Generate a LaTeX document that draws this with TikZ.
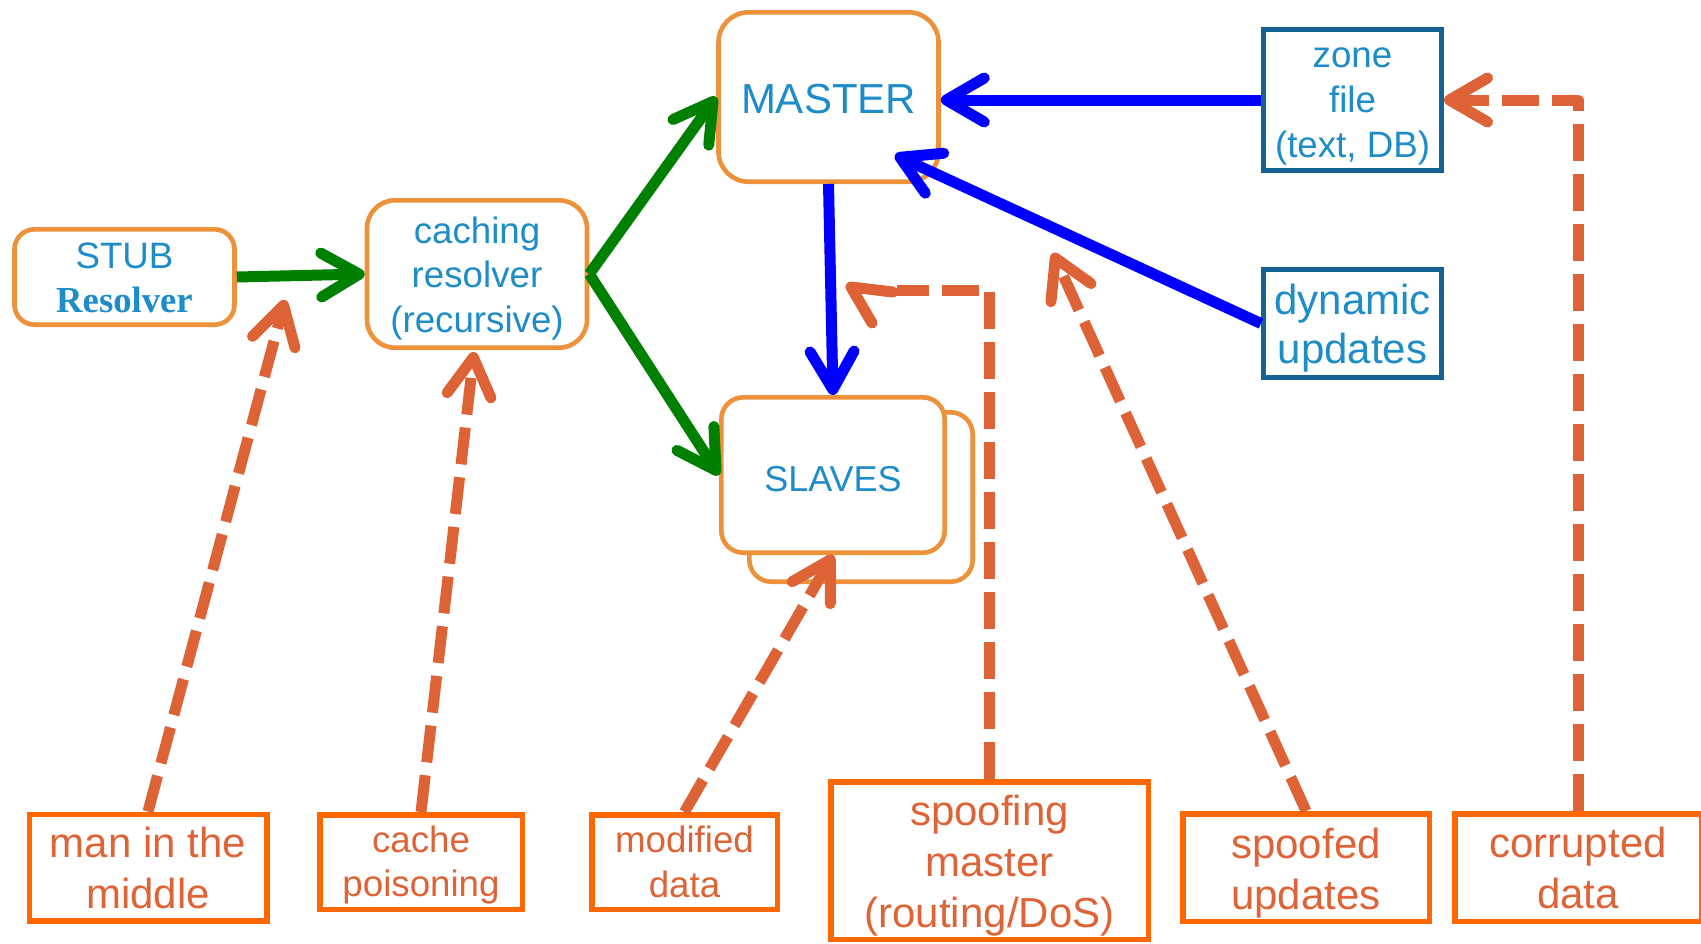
\documentclass[tikz,border=0pt]{standalone}
\usepackage{fontspec}
\setmainfont{Liberation Sans}
\newfontfamily\tnr{Liberation Serif}
\usetikzlibrary{arrows.meta,calc}
\definecolor{boxor}{RGB}{237,145,58}
\definecolor{txtblue}{RGB}{30,140,200}
\definecolor{dkblue}{RGB}{21,98,148}
\definecolor{mygreen}{RGB}{0,128,0}
\definecolor{myblue}{RGB}{0,0,255}
\definecolor{dashor}{RGB}{221,99,54}
\definecolor{btmor}{RGB}{255,104,0}
\definecolor{btmtxt}{RGB}{222,100,55}
\tikzset{
  rbox/.style={draw=boxor, line width=2.3pt, rounded corners=#1, fill=white, inner sep=0pt},
  rbox/.default=12pt,
  bbox/.style={draw=dkblue, line width=2.5pt, fill=white, inner sep=0pt},
  obox/.style={draw=btmor, line width=2.75pt, fill=white, inner sep=0pt},
  btxt/.style={text=txtblue, align=center, inner sep=0pt},
  otxt/.style={text=btmtxt, align=center, inner sep=0pt},
  small/.style={font=\fontsize{18.35}{22.25}\selectfont},
  big/.style={font=\fontsize{21}{25.5}\selectfont},
  tipb/.style={-{Straight Barb[length=19pt,width=22pt,round]}},
  garrow/.style={draw=mygreen, line width=5.5pt, tipb},
  barrow/.style={draw=myblue, line width=5.5pt, tipb},
  dline/.style={draw=dashor, line width=5.5pt, dash pattern=on 18.5pt off 6.5pt, line join=round},
  darrow/.style={dline, tipb},
}
\begin{document}
\begin{tikzpicture}[x=0.5pt,y=-0.5pt]
\clip (0,0) rectangle (1701,943);
\fill[white] (0,0) rectangle (1701,943);

% top boxes
\node[rbox=10pt, minimum width=110pt, minimum height=47.7pt] (stub) at (124.5,277) {};
\node[btxt, small] (stubt) at ($(stub.center)+(0,1)$) {STUB\\{\tnr\bfseries Resolver}};
\node[rbox=14pt, minimum width=110pt, minimum height=73.7pt] (caching) at (477,274) {};
\node[btxt, small] (cachingt) at ($(caching.center)+(0,4)$) {caching\\resolver\\(recursive)};
\node[rbox=15pt, minimum width=110pt, minimum height=84.7pt] (master) at (828.5,97) {};
\node[btxt, font=\fontsize{21}{25}\selectfont] (mastert) at ($(master.center)+(0,2)$) {MASTER};
\node[bbox, minimum width=89pt, minimum height=70.5pt] (zone) at (1352.5,100) {};
\node[btxt, font=\fontsize{18.35}{22.5}\selectfont] (zonet) at ($(zone.center)+(0,6.5)$) {zone\\file\\(text, DB)};
\node[bbox, minimum width=89pt, minimum height=54pt] (dyn) at (1352.5,323.5) {};
\node[btxt, font=\fontsize{21}{24.5}\selectfont] (dynt) at ($(dyn.center)+(0,5)$) {dynamic\\updates};
\node[rbox=11pt, minimum width=111.7pt, minimum height=84.7pt] (slavesback) at (861,497) {};
\node[rbox=11pt, minimum width=111.7pt, minimum height=77.7pt] (slaves) at (833,475) {};
\node[btxt, font=\fontsize{18}{22}\selectfont] (slavest) at ($(slaves.center)+(0,4)$) {SLAVES};

% bottom boxes
\node[obox, minimum width=118.75pt, minimum height=53.25pt] (mitm) at (148,867.5) {};
\node[otxt, big] (mitmt) at (mitm.center) {man in the\\middle};
\node[obox, minimum width=101.25pt, minimum height=47.25pt] (cp) at (421,862) {};
\node[otxt, small] (cpt) at ($(cp.center)+(0,3)$) {cache\\poisoning};
\node[obox, minimum width=92.75pt, minimum height=47.25pt] (md) at (684.5,862) {};
\node[otxt, small] (mdt) at (md.center) {modified\\data};
\node[obox, minimum width=158.75pt, minimum height=78.75pt] (sm) at (989.5,860.5) {};
\node[otxt, big] (smt) at ($(sm.center)+(0,5.5)$) {spoofing\\master\\(routing/DoS)};
\node[obox, minimum width=123.25pt, minimum height=53.75pt] (su) at (1306,867.5) {};
\node[otxt, big] (sut) at ($(su.center)+(0,5.5)$) {spoofed\\updates};
\node[obox, minimum width=123.25pt, minimum height=53.75pt] (cd) at (1578,867.5) {};
\node[otxt, big] (cdt) at (cd.center) {corrupted\\data};

% coordinates for free ends
\coordinate (t1) at (285,300);
\coordinate (t2) at (474,352);
\coordinate (t4) at (897,290);
\coordinate (t5) at (1053,253);
\coordinate (t6) at (895,155);

% green arrows
\draw[garrow] (stub.east) -- (caching.west);
\draw[garrow] (caching.east) -- (master.west);
\draw[garrow] (caching.east) -- (slaves.west);

% blue arrows
\draw[barrow] (zone.west) -- (master.east |- zone.west);
\draw[barrow] (dyn.west) -- (t6);
\draw[barrow] (master.south) -- (slaves.north);

% dashed attack arrows
\draw[darrow] (mitm.north) -- (t1);
\draw[darrow] (cp.north) -- (t2);
\draw[darrow] (md.north) -- (slaves.south);
\draw[dline] (sm.north) |- (t4);
\draw[draw=dashor, line width=5.5pt, line cap=round, line join=round] (893,292) -- (851,287) -- (872,323);
\draw[darrow] (su.north) -- (t5);
\draw[darrow] (cd.north) |- (zone.east);
\end{tikzpicture}
\end{document}
